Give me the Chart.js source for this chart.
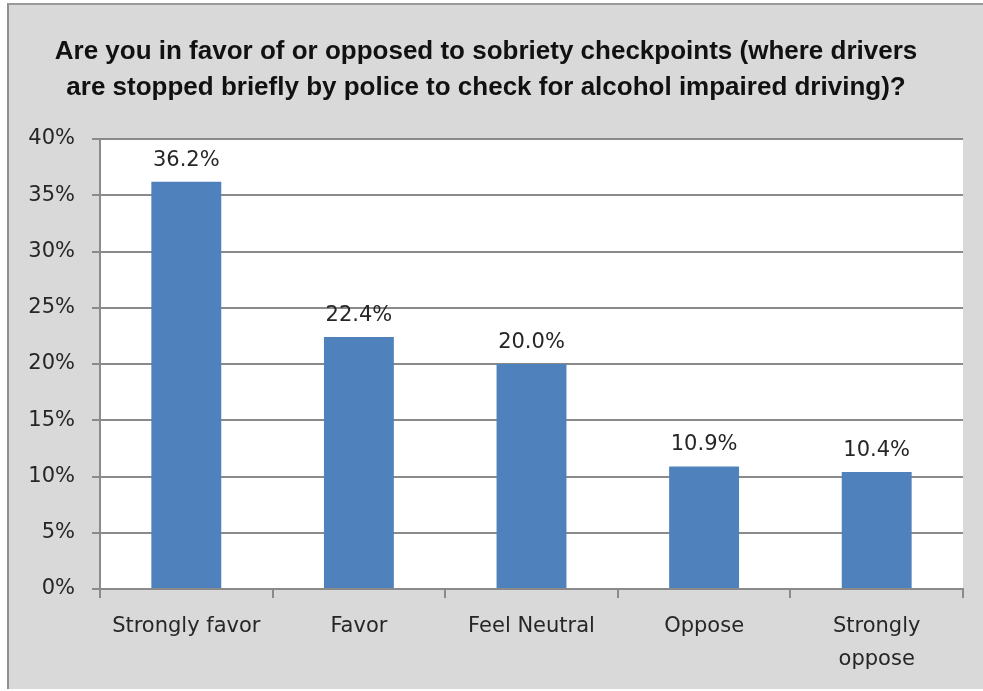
<!DOCTYPE html>
<html>
<head>
<meta charset="utf-8">
<script src="https://cdn.jsdelivr.net/npm/chart.js@4"></script>
<style>
  body { margin: 0; background: #ffffff; }
  #box {
    position: absolute; left: 7px; top: 3px;
    width: 974px; height: 684px;
    background: #d9d9d9;
    border-left: 2px solid #8f8f8f;
    border-top: 2px solid #9a9a9a;
  }
</style>
</head>
<body>
<div id="box"><canvas id="myChart"></canvas></div>
<script>
// chart data
var categories = ['Strongly favor', 'Favor', 'Feel Neutral', 'Oppose', ['Strongly', 'oppose']];
var values = [36.2, 22.4, 20.0, 10.9, 10.4];
var yMax = 40;
var yStep = 5;
var titleLines = [
  'Are you in favor of or opposed to sobriety checkpoints (where drivers',
  'are stopped briefly by police to check for alcohol impaired driving)?'
];

var textColor = '#262626';
var lineColor = '#8a8a8a';
var axisFont = { family: 'DejaVu Sans', size: 21 };

//white plot area
var plotBg = {
  id: 'plotBg',
  beforeDraw: function(chart) {
    var a = chart.chartArea;
    var ctx = chart.ctx;
    ctx.save();
    ctx.fillStyle = '#ffffff';
    ctx.fillRect(a.left, a.top, a.right - a.left, a.bottom - a.top);
    ctx.restore();
  }
};

//value labels above bars
var barLabels = {
  id: 'barLabels',
  afterDatasetsDraw: function(chart) {
    var ctx = chart.ctx;
    var meta = chart.getDatasetMeta(0);
    ctx.save();
    ctx.font = '21px "DejaVu Sans"';
    ctx.fillStyle = textColor;
    ctx.textAlign = 'center';
    ctx.textBaseline = 'alphabetic';
    meta.data.forEach(function(bar, i) {
      ctx.fillText(values[i].toFixed(1) + '%', bar.x, bar.y - 16);
    });
    ctx.restore();
  }
};

var ctx = document.getElementById('myChart').getContext('2d');
var myChart = new Chart(ctx, {
  type: 'bar',
  data: {
    labels: categories,
    datasets: [{
      data: values,
      backgroundColor: '#4f81bd',
      borderWidth: 0,
      barPercentage: 0.405,
      categoryPercentage: 1.0
    }]
  },
  options: {
    responsive: true,
    maintainAspectRatio: false,
    animation: false,
    layout: { padding: { top: 0, right: 20, bottom: 0, left: 0 } },
    plugins: {
      legend: { display: false },
      tooltip: { enabled: false },
      title: {
        display: true,
        text: titleLines,
        color: '#111111',
        font: { family: 'Liberation Sans', size: 26, weight: 'bold', lineHeight: 36 / 26 },
        padding: { top: 29, bottom: 33 }
      }
    },
    scales: {
      x: {
        grid: {
          display: true,
          drawOnChartArea: false,
          offset: true,
          color: lineColor,
          lineWidth: 2,
          tickLength: 9
        },
        border: { display: true, color: lineColor, width: 2 },
        ticks: {
          color: textColor,
          font: { family: 'DejaVu Sans', size: 21, lineHeight: 33 / 21 },
          padding: 12,
          maxRotation: 0,
          autoSkip: false
        },
        afterFit: function(scale) { scale.height = 100; }
      },
      y: {
        min: 0,
        max: yMax,
        grid: {
          color: lineColor,
          lineWidth: 2,
          tickLength: 8
        },
        border: { display: true, color: lineColor, width: 2 },
        ticks: {
          stepSize: yStep,
          color: textColor,
          font: axisFont,
          padding: 17,
          callback: function(v) { return v + '%'; }
        },
        afterFit: function(scale) { scale.width = 91; }
      }
    }
  },
  plugins: [plotBg, barLabels]
});
</script>
</body>
</html>
